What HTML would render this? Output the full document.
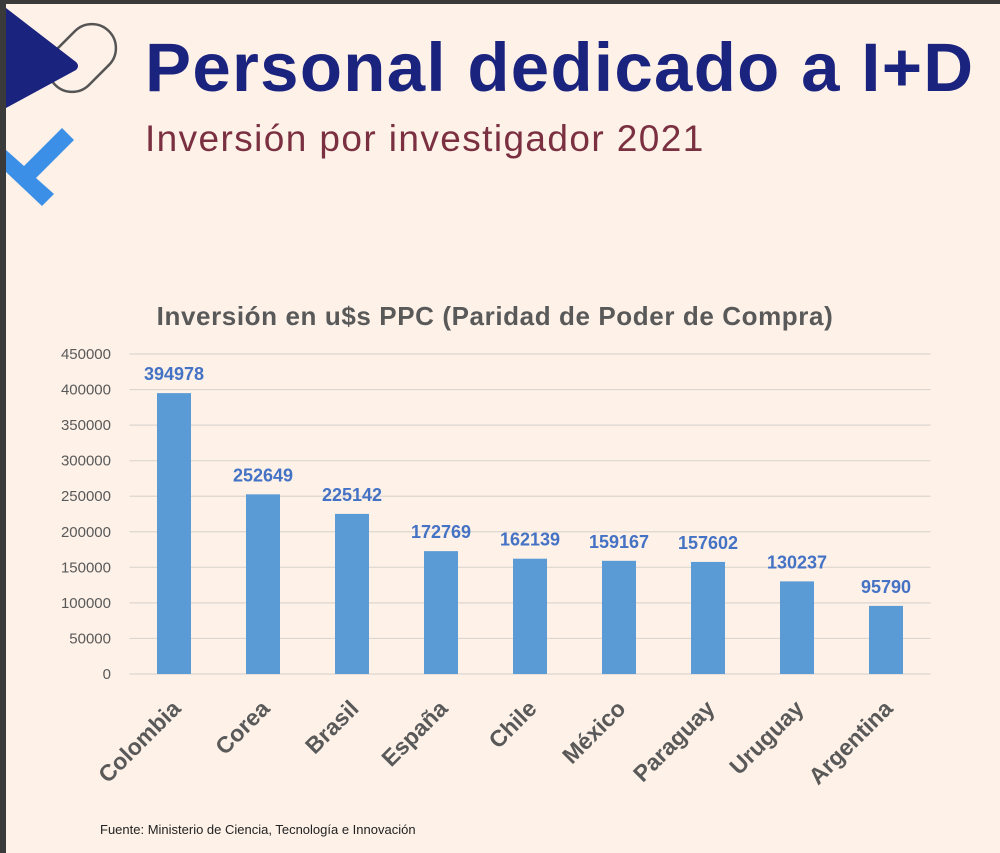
<!DOCTYPE html>
<html><head><meta charset="utf-8"><style>
html,body{margin:0;padding:0}
body{width:1000px;height:853px;background:#fdf1e8;position:relative;overflow:hidden;font-family:"Liberation Sans",sans-serif}
</style></head><body>
<div style="position:absolute;left:0;top:0;width:1000px;height:4px;background:#3a3a3a"></div>
<div style="position:absolute;left:0;top:0;width:6px;height:853px;background:#3a3a3a"></div>
<svg width="140" height="220" style="position:absolute;left:0;top:0">
  <rect x="-24" y="-38" width="48" height="76" rx="24" transform="translate(82,58) rotate(45)" fill="none" stroke="#555" stroke-width="2.5"/>
  <path d="M6,8 L76,62 Q80,66 76,70 L6,108 Z" fill="#1a237e"/>
  <path d="M6,150 L24,166 L62,128 L74,140 L36,178 L54,194 L42,206 L6,172 Z" fill="#3b8fe6"/>
</svg>
<div style="position:absolute;left:145px;top:28px;font-size:69px;font-weight:bold;color:#1a237e;white-space:nowrap;letter-spacing:1.3px">Personal dedicado a I+D</div>
<div style="position:absolute;left:145px;top:118px;font-size:37px;color:#7a3040;white-space:nowrap;letter-spacing:1.4px">Inversión por investigador 2021</div>
<svg id="chart" width="1000" height="853" style="position:absolute;left:0;top:0"></svg>
<div style="position:absolute;left:100px;top:822px;font-size:13px;color:#222">Fuente: Ministerio de Ciencia, Tecnología e Innovación</div>
<script>
const categories=["Colombia","Corea","Brasil","España","Chile","México","Paraguay","Uruguay","Argentina"];
const values=[394978,252649,225142,172769,162139,159167,157602,130237,95790];
const ticks=[0,50000,100000,150000,200000,250000,300000,350000,400000,450000];
const NS="http://www.w3.org/2000/svg";
const svg=document.getElementById('chart');
const x0=129.5,x1=930.5,yTop=354,yBot=674,yMax=450000;
const band=(x1-x0)/categories.length;
const y=v=>yBot-(v/yMax)*(yBot-yTop);
const xc=i=>x0+band*(i+0.5);
function mk(t,a){const e=document.createElementNS(NS,t);for(const k in a)e.setAttribute(k,a[k]);svg.appendChild(e);return e;}
const title=mk('text',{x:495,y:325,'text-anchor':'middle','font-size':26,'font-weight':'bold',fill:'#595959','letter-spacing':'0.6'});


title.textContent='Inversión en u$s PPC (Paridad de Poder de Compra)';
ticks.forEach(t=>{
  const l=mk('line',{x1:x0,x2:x1,y1:y(t),y2:y(t),stroke:'#dcd6d0','stroke-width':1.2});
  
  
  const tx=mk('text',{x:111,y:y(t)+5,'text-anchor':'end','font-size':15,fill:'#595959'});
  
  
  tx.textContent=t;
});
categories.forEach((c,i)=>{
  const cx=xc(i),v=values[i];
  const r=mk('rect',{x:cx-17,y:y(v),width:34,height:yBot-y(v),fill:'#5b9bd5'});
  
  
  const lb=mk('text',{x:cx,y:y(v)-13,'text-anchor':'middle','font-size':18,'font-weight':'bold',fill:'#4472c4'});
  
  
  lb.textContent=v;
  const xl=mk('text',{x:0,y:0,'text-anchor':'end','font-size':23,'font-weight':'bold',fill:'#595959',transform:`translate(${cx+8},${710}) rotate(-45)`});
  
  
  xl.textContent=c;
});
</script>
</body></html>
